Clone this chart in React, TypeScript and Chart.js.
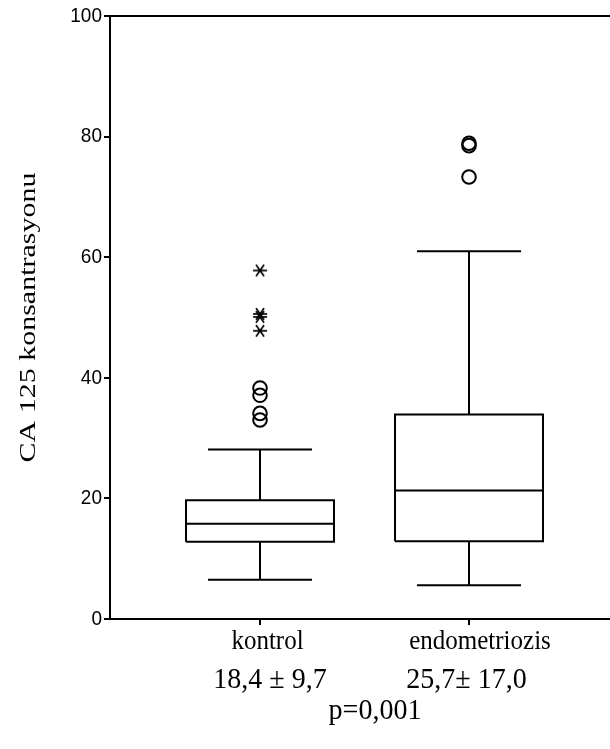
import React, { useEffect, useRef } from 'react';
import { Chart, registerables } from 'chart.js';
Chart.register(...registerables);

const categories = ['kontrol', 'endometriozis'];
const lowerWhisker = [6.5, 5.6];
const q1 = [12.8, 12.9];
const medians = [15.8, 21.3];
const q3 = [19.7, 33.9];
const upperWhisker = [28.1, 61.0];
const circleOutliers = [[38.3, 37.1, 34.1, 33.0], [78.9, 78.5, 73.3]];
const starOutliers = [[57.8, 50.6, 50.1, 47.8], []];
const yTicks = [0, 20, 40, 60, 80, 100];
const meanSd = ['18,4 ± 9,7', '25,7± 17,0'];
const pValue = 'p=0,001';
const yTitle = 'CA 125 konsantrasyonu';

const BOX_HALF = 0.354;
const CAP_HALF = 0.249;

function makeStar(): HTMLCanvasElement {
  const c = document.createElement('canvas');
  c.width = 18;
  c.height = 18;
  const g = c.getContext('2d')!;
  g.strokeStyle = '#000';
  g.lineWidth = 1.7;
  const r = 7;
  [0, 55, 125].forEach((deg) => {
    const a = (deg * Math.PI) / 180;
    g.beginPath();
    g.moveTo(9 - r * Math.cos(a), 9 - r * Math.sin(a));
    g.lineTo(9 + r * Math.cos(a), 9 + r * Math.sin(a));
    g.stroke();
  });
  return c;
}

function drawText(
  ctx: CanvasRenderingContext2D,
  text: string,
  x: number,
  y: number,
  font: string,
  align: CanvasTextAlign,
  sx: number,
  sy: number,
  rot = 0
) {
  ctx.save();
  ctx.translate(x, y);
  if (rot) ctx.rotate(rot);
  ctx.scale(sx, sy);
  ctx.font = font;
  ctx.textAlign = align;
  ctx.textBaseline = 'middle';
  ctx.fillStyle = '#000';
  ctx.fillText(text, 0, 0);
  ctx.restore();
}

export default function App() {
  const ref = useRef<HTMLCanvasElement>(null);
  useEffect(() => {
    if (!ref.current) return;
    const line = (data: { x: number; y: number }[]) => ({
      data,
      showLine: true,
      borderColor: '#000',
      borderWidth: 2,
      pointRadius: 0,
      fill: false,
      tension: 0,
      borderJoinStyle: 'miter' as const,
      borderCapStyle: 'butt' as const,
    });
    const datasets: any[] = [];
    categories.forEach((_, i) => {
      const x = i + 1;
      datasets.push(line([
        { x: x - BOX_HALF, y: q1[i] },
        { x: x + BOX_HALF, y: q1[i] },
        { x: x + BOX_HALF, y: q3[i] },
        { x: x - BOX_HALF, y: q3[i] },
        { x: x - BOX_HALF, y: q1[i] },
      ]));
      datasets.push(line([{ x: x - BOX_HALF, y: medians[i] }, { x: x + BOX_HALF, y: medians[i] }]));
      datasets.push(line([{ x, y: q3[i] }, { x, y: upperWhisker[i] }]));
      datasets.push(line([{ x, y: q1[i] }, { x, y: lowerWhisker[i] }]));
      datasets.push(line([{ x: x - CAP_HALF, y: upperWhisker[i] }, { x: x + CAP_HALF, y: upperWhisker[i] }]));
      datasets.push(line([{ x: x - CAP_HALF, y: lowerWhisker[i] }, { x: x + CAP_HALF, y: lowerWhisker[i] }]));
      datasets.push({
        data: circleOutliers[i].map((y) => ({ x, y })),
        pointStyle: 'circle',
        pointRadius: 6.8,
        pointBorderWidth: 2,
        pointBorderColor: '#000',
        pointBackgroundColor: 'rgba(0,0,0,0)',
        showLine: false,
      });
      const star = makeStar();
      datasets.push({
        data: starOutliers[i].map((y) => ({ x, y })),
        pointStyle: star,
        pointRadius: 7,
        showLine: false,
      });
    });

    const extras = {
      id: 'extras',
      afterDraw(chart: any) {
        const { ctx, chartArea, scales } = chart;
        ctx.save();
        ctx.strokeStyle = '#000';
        ctx.lineWidth = 2;
        ctx.beginPath();
        ctx.moveTo(chartArea.left - 1, chartArea.top);
        ctx.lineTo(chartArea.right, chartArea.top);
        ctx.stroke();
        ctx.restore();

        yTicks.forEach((v) => {
          drawText(ctx, String(v), chartArea.left - 8, scales.y.getPixelForValue(v), '19px "Liberation Sans"', 'right', 1, 1.1);
        });
        const labelOffsets = [7.5, 11];
        categories.forEach((c, i) => {
          drawText(ctx, c, scales.x.getPixelForValue(i + 1) + labelOffsets[i], chartArea.bottom + 23, '25px "Liberation Serif"', 'center', 1, 1.1);
        });
        const statOffsets = [10, -2.5];
        meanSd.forEach((t, i) => {
          drawText(ctx, t, scales.x.getPixelForValue(i + 1) + statOffsets[i], chartArea.bottom + 61, '28px "Liberation Serif"', 'center', 1, 1.05);
        });
        const mid = (scales.x.getPixelForValue(1) + scales.x.getPixelForValue(2)) / 2;
        drawText(ctx, pValue, mid + 10.5, chartArea.bottom + 92, '28px "Liberation Serif"', 'center', 1, 1.05);
        drawText(ctx, yTitle, 29, (chartArea.top + chartArea.bottom) / 2, '24px "Liberation Serif"', 'center', 1.25, 1, -Math.PI / 2);
      },
    };

    const chart = new Chart(ref.current, {
      type: 'scatter',
      data: { datasets },
      plugins: [extras],
      options: {
        animation: false,
        responsive: false,
        devicePixelRatio: 1,
        layout: { autoPadding: false, padding: { top: 16, left: 0, right: 0, bottom: 0 } },
        plugins: { legend: { display: false }, tooltip: { enabled: false } },
        scales: {
          x: {
            type: 'linear',
            min: 0.2823,
            max: 2.6746,
            afterBuildTicks: (s: any) => {
              s.ticks = categories.map((_, i) => ({ value: i + 1 }));
            },
            afterFit: (s: any) => {
              s.height = 130;
            },
            ticks: { display: false },
            grid: { drawOnChartArea: false, drawTicks: true, tickLength: 6, color: '#000', lineWidth: 2 },
            border: { display: true, color: '#000', width: 2 },
          },
          y: {
            type: 'linear',
            min: 0,
            max: 100,
            afterBuildTicks: (s: any) => {
              s.ticks = yTicks.map((v) => ({ value: v }));
            },
            afterFit: (s: any) => {
              s.width = 110;
            },
            ticks: { display: false },
            grid: { drawOnChartArea: false, drawTicks: true, tickLength: 6, color: '#000', lineWidth: 2 },
            border: { display: true, color: '#000', width: 2 },
          },
        },
      },
    });
    return () => chart.destroy();
  }, []);

  return (
    <div style={{ position: 'absolute', left: 0, top: 0, width: 610, height: 749, background: '#fff' }}>
      <canvas ref={ref} width={610} height={749} style={{ display: 'block', width: 610, height: 749 }} />
    </div>
  );
}
